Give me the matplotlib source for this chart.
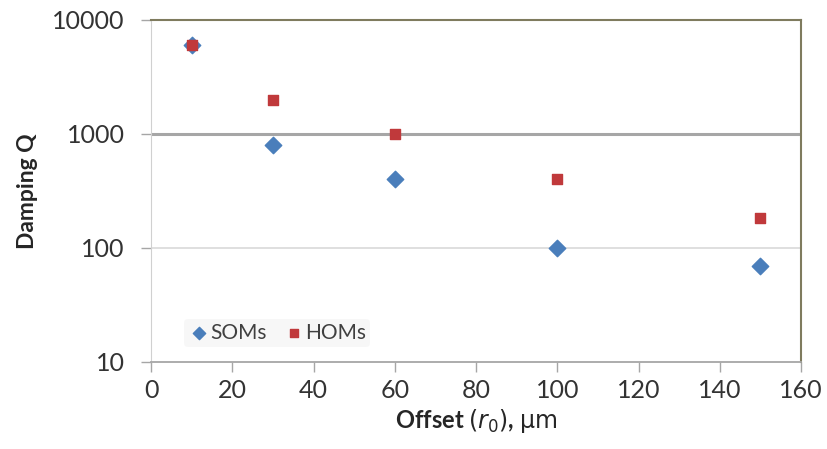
import matplotlib.pyplot as plt
from matplotlib.ticker import FixedLocator, NullLocator

# данные с графика
offset = [10, 30, 60, 100, 150]
soms_q = [6000, 800, 400, 100, 70]
homs_q = [6000, 2000, 1000, 400, 185]

x_ticks = [0, 20, 40, 60, 80, 100, 120, 140, 160]
y_ticks = [10, 100, 1000, 10000]
y_labels = ['10', '100', '1000', '10000']

plt.rcParams['font.family'] = ['Lato', 'DejaVu Sans']

fig = plt.figure(figsize=(8.27, 4.49), dpi=100)
ax = fig.add_axes([0.1826, 0.1938, 0.786, 0.7617])

ax.scatter(offset, soms_q, marker='D', s=70, c='#4a7ebb', label='SOMs', zorder=3)
ax.scatter(offset, homs_q, marker='s', s=55, c='#c0393b', label='HOMs', zorder=4)

ax.set_yscale('log')
ax.set_xlim(0, 160)
ax.set_ylim(10, 10000)
ax.xaxis.set_major_locator(FixedLocator(x_ticks))
ax.yaxis.set_major_locator(FixedLocator(y_ticks))
ax.yaxis.set_minor_locator(NullLocator())
ax.set_yticklabels(y_labels)

# сетка как в Excel
ax.axhline(1000, color='#a6a6a6', lw=2.2, zorder=1)
ax.axhline(100, color='#d9d9d9', lw=1.2, zorder=1)

for s in ['top', 'right']:
    ax.spines[s].set_color('#7f7b5e')
    ax.spines[s].set_linewidth(1.5)
ax.spines['left'].set_color('#d0d0d0')
ax.spines['bottom'].set_color('#a6a6a6')
ax.spines['bottom'].set_linewidth(1.3)

ax.tick_params(axis='both', labelsize=18, length=7, width=1)
ax.tick_params(axis='x', colors='#a6a6a6', labelcolor='#333333', pad=5)
ax.tick_params(axis='y', colors='#a6a6a6', labelcolor='#333333', pad=12)

ax.set_ylabel('Damping Q', fontsize=16.5, fontweight='bold', color='#262626', labelpad=10)
ax.set_xlabel(r'Offset $(r_0)$, $\mathrm{\mu m}$', fontsize=17, fontweight='bold',
              color='#262626', labelpad=4)

leg = ax.legend(loc='center left', bbox_to_anchor=(0.035, 0.085), ncol=2, frameon=True,
                fontsize=15, handletextpad=0.05, handlelength=1.0, columnspacing=0.8,
                borderpad=0.2, markerscale=0.75)
leg.get_frame().set_facecolor('#f6f6f6')
leg.get_frame().set_edgecolor('none')
for t in leg.get_texts():
    t.set_color('#404040')

fig.savefig('out.png', dpi=100)
